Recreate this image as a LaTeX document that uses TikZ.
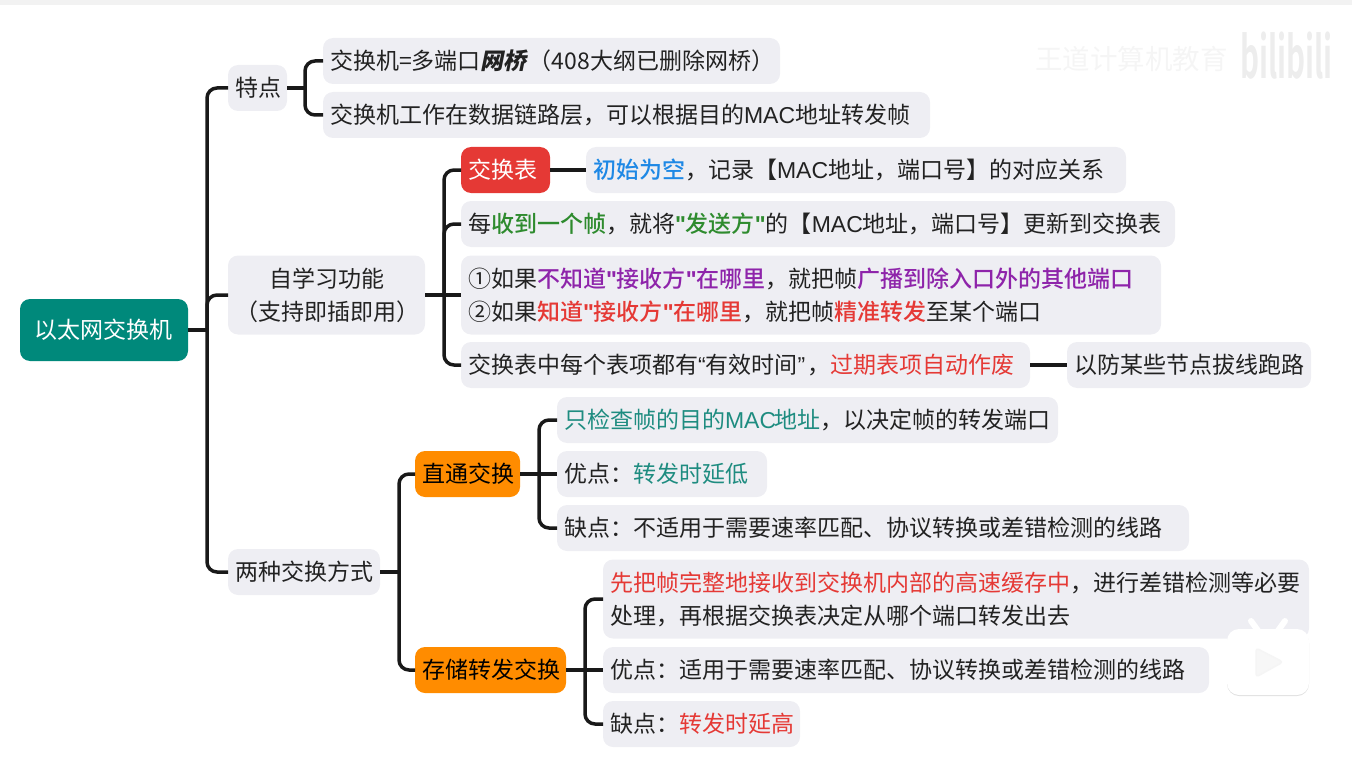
\documentclass[tikz,border=0pt]{standalone}
\usepackage{xcolor}
\usepackage{graphicx}
\usepackage{fontspec}
\usepackage{tikz}
\setmainfont{Noto Sans CJK SC}[BoldFont={Noto Sans CJK SC Medium}]
\newfontfamily\slantfont{Noto Sans CJK SC}[FakeSlant=0.2]
\newfontfamily\latinfont{Liberation Sans}
\newfontfamily\heavyfont{Noto Sans CJK SC Bold}
\definecolor{boxgray}{HTML}{EEEEF3}
\definecolor{inkblack}{HTML}{222222}
\definecolor{rootteal}{HTML}{00897B}
\definecolor{tablered}{HTML}{E53935}
\definecolor{keyorange}{HTML}{FF8C00}
\definecolor{noteblue}{HTML}{1E88E5}
\definecolor{notegreen}{HTML}{2E8B2E}
\definecolor{notepurple}{HTML}{8E24AA}
\definecolor{noteteal}{HTML}{1E8C80}
\newcommand{\linestrut}{\rule[-5pt]{0pt}{27.6pt}}
\newcommand{\macword}{{\latinfont MAC}}
\newcommand{\plainquote}{{\latinfont\symbol{34}}}
\newcommand{\openquote}{{\latinfont “}}
\newcommand{\closequote}{{\latinfont ”}}
\tikzset{
    leaf/.style={fill=boxgray, text=inkblack, rounded corners=10pt, anchor=west, inner xsep=7pt, inner ysep=0pt, outer sep=0pt,
        minimum height=46pt, align=left, font=\fontsize{23}{33}\selectfont,
        execute at begin node={\linestrut}, execute at end node={\linestrut}},
    midbox/.style={leaf, align=center},
    tablebox/.style={leaf, fill=tablered, text=white},
    keybox/.style={leaf, align=center, fill=keyorange, text=black},
    rootbox/.style={leaf, align=center, fill=rootteal, text=white, minimum height=62pt},
    link/.style={draw=black!90, line width=3.5pt, rounded corners=10pt}
}
\begin{document}
\begin{tikzpicture}[x=1pt, y=-1pt]
            \useasboundingbox (0, 0) rectangle (1352, 757);
            \fill[black!5] (0, 0) rectangle (1352, 5);
            \node[font=\fontsize{27.5}{30}\selectfont, text=black!4, anchor=west, inner sep=0pt] at (1035, 59) (wordmark) {王道计算机教育};
            \node[font=\fontsize{36}{40}\selectfont\heavyfont, text=black!7, anchor=west, inner sep=0pt] at (1240, 56) (sitemark) {\scalebox{.82}[1.6]{bilibili}};

            \node[rootbox, text width=154pt] at (20, 330) (root) {以太网交换机};

            \node[midbox, text width=45pt] at (228, 88) (feature) {特点};
            \node[midbox, text width=183pt, minimum height=79pt] at (228, 295) (selflearn) {自学习功能\\（支持即插即用）};
            \node[midbox, text width=138pt] at (228, 572) (modes) {两种交换方式};

            \node[leaf, text width=443pt] at (323, 61) (bridge) {交换机=多端口{\slantfont\bfseries 网桥}\kern2pt（408大纲已删除网桥）};
            \node[leaf, text width=593pt] at (323, 115) (layer) {交换机工作在数据链路层，可以根据目的\macword 地址转发帧};

            \node[tablebox, text width=75pt] at (461, 170) (table) {交换表};
            \node[leaf, text width=526pt] at (586, 170) (empty) {\textcolor{noteblue}{\bfseries 初始为空}，记录【\macword 地址，端口号】的对应关系};
            \node[leaf, text width=700pt] at (461, 224) (update) {每\textcolor{notegreen}{\bfseries 收到一个帧}，就将\textcolor{notegreen}{\bfseries \plainquote 发送方\plainquote}的【\macword 地址，端口号】更新到交换表};
            \node[leaf, text width=686pt, minimum height=79pt] at (461, 295) (forward) {①如果\textcolor{notepurple}{\bfseries 不知道\plainquote 接收方\plainquote 在哪里}，就把帧\textcolor{notepurple}{\bfseries 广播到除入口外的其他端口}\\②如果\textcolor{tablered}{\bfseries 知道\plainquote 接收方\plainquote 在哪里}，就把帧\textcolor{tablered}{\bfseries 精准转发}至某个端口};
            \node[leaf, text width=555pt] at (461, 365) (expire) {交换表中每个表项都有\openquote 有效时间\closequote\kern2pt ，\textcolor{tablered}{过期表项自动作废}};
            \node[leaf, text width=230pt] at (1067, 365) (unplug) {以防某些节点拔线跑路};

            \node[keybox, text width=91pt] at (415, 474) (cut) {直通交换};
            \node[keybox, text width=137pt] at (415, 670) (store) {存储转发交换};

            \node[leaf, text width=487pt] at (557, 420) (cutdest) {\textcolor{noteteal}{只检查帧的目的\macword\kern-2pt 地址}，以决定帧的转发端口};
            \node[leaf, text width=196pt] at (557, 474) (cutgood) {优点：\textcolor{noteteal}{转发时延低}};
            \node[leaf, text width=618pt] at (557, 528) (cutbad) {缺点：不适用于需要速率匹配、协议转换或差错检测的线路};

            \node[leaf, text width=692pt, minimum height=79pt] at (603, 599) (storefull) {\textcolor{tablered}{先把帧完整地接收到交换机内部的高速缓存中}，进行差错检测等必要\\处理，再根据交换表决定从哪个端口转发出去};
            \node[leaf, text width=592pt] at (603, 670) (storegood) {优点：适用于需要速率匹配、协议转换或差错检测的线路};
            \node[leaf, text width=183pt] at (603, 724) (storebad) {缺点：\textcolor{tablered}{转发时延高}};

            \coordinate (busroot) at (207, 0);
            \coordinate (busfeature) at (305, 0);
            \coordinate (buslearn) at (444, 0);
            \coordinate (busmodes) at (399, 0);
            \coordinate (buscut) at (539, 0);
            \coordinate (busstore) at (585, 0);

            \draw[link] (root.east) -- (root.east -| busroot);
            \foreach \child in {feature, selflearn, modes}
                \draw[link] (root.east -| busroot) |- (\child.west);
            \draw[link] (feature.east) -- (feature.east -| busfeature);
            \foreach \child in {bridge, layer}
                \draw[link] (feature.east -| busfeature) |- (\child.west);
            \draw[link] (selflearn.east) -- (forward.west);
            \foreach \child in {table, update, expire}
                \draw[link] (selflearn.east -| buslearn) |- (\child.west);
            \draw[link] (table.east) -- (empty.west);
            \draw[link] (expire.east) -- (unplug.west);
            \draw[link] (modes.east) -- (modes.east -| busmodes);
            \foreach \child in {cut, store}
                \draw[link] (modes.east -| busmodes) |- (\child.west);
            \draw[link] (cut.east) -- (cutgood.west);
            \foreach \child in {cutdest, cutbad}
                \draw[link] (cut.east -| buscut) |- (\child.west);
            \draw[link] (store.east) -- (storegood.west);
            \foreach \child in {storefull, storebad}
                \draw[link] (store.east -| busstore) |- (\child.west);

            \draw[white, line width=6pt, line cap=round] (1259, 632) -- (1251, 621);
            \draw[white, line width=6pt, line cap=round] (1277, 632) -- (1285, 621);
            \fill[black!12, rounded corners=12pt] (1227, 631) rectangle (1309, 696);
            \fill[white, rounded corners=12pt] (1227, 629) rectangle (1309, 695);
            \draw[black!4, line width=1.5pt, fill=black!3, rounded corners=3pt, line join=round] (1256, 648) -- (1283, 662) -- (1256, 677) -- cycle;
    \end{tikzpicture}
\end{document}
